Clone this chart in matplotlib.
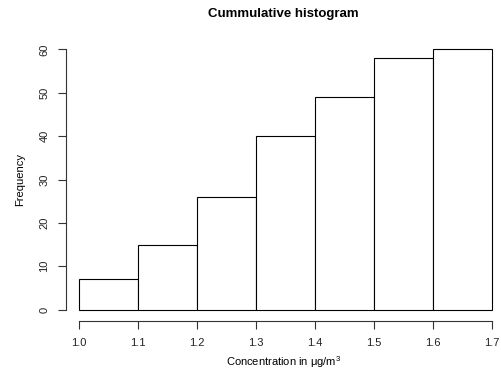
import matplotlib.pyplot as plt
import numpy as np

# histogram bins and cumulative counts
breaks = [1.0, 1.1, 1.2, 1.3, 1.4, 1.5, 1.6, 1.7]
counts = [7, 15, 26, 40, 49, 58, 60]
y_ticks = [0, 10, 20, 30, 40, 50, 60]

plt.rcParams['font.family'] = ['Liberation Sans', 'DejaVu Sans']

fig = plt.figure(figsize=(5.02, 3.74), dpi=100)
ax = fig.add_axes([66 / 502, 1 - 320 / 374, 439 / 502, 281 / 374])

edges = np.array(breaks)
ax.bar(edges[:-1], counts, width=np.diff(edges), align='edge',
       facecolor='white', edgecolor='black', linewidth=0.8)

ax.set_xlim(1.0 - 13 / 590, 1.7 + 13 / 590)
ax.set_ylim(-2.4, 62.4)

for s in ['top', 'right']:
    ax.spines[s].set_visible(False)
ax.spines['left'].set_bounds(0, 60)
ax.spines['bottom'].set_bounds(1.0, 1.7)
ax.spines['bottom'].set_position(('outward', 1))
for s in ['left', 'bottom']:
    ax.spines[s].set_linewidth(0.8)
    ax.spines[s].set_color('#333333')

ax.set_xticks(breaks)
ax.set_xticklabels([f'{b:.1f}' for b in breaks])
ax.set_yticks(y_ticks)
ax.set_yticklabels([str(t) for t in y_ticks], rotation=90, va='center')
ax.tick_params(axis='both', length=6, width=0.8, color='#333333',
               labelsize=8, labelcolor='#222222', pad=6)

fig.text(284 / 502, 1 - 362 / 374, 'Concentration in $\\mathregular{\\mu g/m^3}$',
         ha='center', va='center', fontsize=8)
fig.text(20 / 502, 1 - 179 / 374, 'Frequency', ha='center', va='center',
         rotation=90, fontsize=8)
fig.text(283 / 502, 1 - 14 / 374, 'Cummulative histogram', ha='center', va='center',
         fontsize=9.5, fontweight='bold')

fig.savefig('out.png', dpi=100)
